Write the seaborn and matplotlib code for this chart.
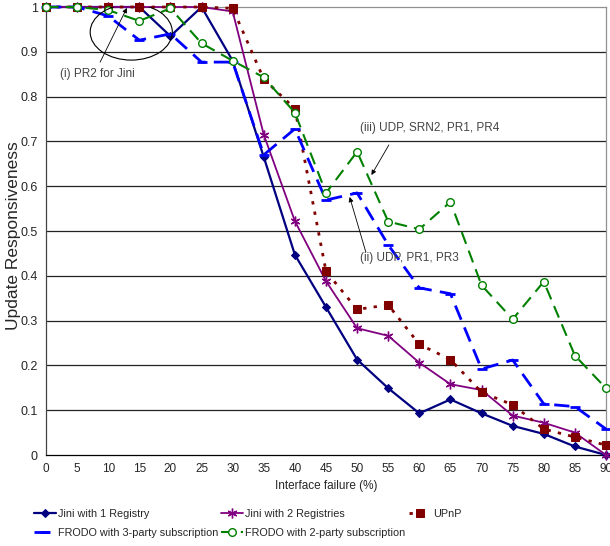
import matplotlib
matplotlib.use("Agg")
import matplotlib.pyplot as plt
from matplotlib.patches import Ellipse
import seaborn as sns
import pandas as pd

failure = [0, 5, 10, 15, 20, 25, 30, 35, 40, 45, 50, 55, 60, 65, 70, 75, 80, 85, 90]
jini1 = [1, 1, 1, 1, 0.935, 1, 0.88, 0.665, 0.447, 0.33, 0.213, 0.149, 0.093, 0.124, 0.093, 0.065, 0.047, 0.019, 0.0]
jini2 = [1, 1, 1, 1, 1, 1, 0.99, 0.715, 0.522, 0.388, 0.283, 0.266, 0.206, 0.158, 0.145, 0.088, 0.072, 0.05, 0.0]
upnp = [1, 1, 1, 1, 1, 1, 0.997, 0.839, 0.773, 0.41, 0.325, 0.335, 0.247, 0.213, 0.14, 0.112, 0.058, 0.04, 0.022]
frodo3 = [1, 1, 0.98, 0.926, 0.94, 0.877, 0.877, 0.67, 0.728, 0.569, 0.585, 0.469, 0.373, 0.36, 0.192, 0.212, 0.114, 0.108, 0.058]
frodo2 = [1, 1, 0.993, 0.969, 0.997, 0.919, 0.88, 0.843, 0.764, 0.585, 0.677, 0.521, 0.504, 0.565, 0.379, 0.303, 0.387, 0.222, 0.149]
series_names = ["Jini with 1 Registry", "Jini with 2 Registries", "UPnP",
                "FRODO with 3-party subscription", "FRODO with 2-party subscription"]
y_ticks = [0, 0.1, 0.2, 0.3, 0.4, 0.5, 0.6, 0.7, 0.8, 0.9, 1]
y_tick_labels = ["0", "0.1", "0.2", "0.3", "0.4", "0.5", "0.6", "0.7", "0.8", "0.9", "1"]

sns.set_style("white")
plt.rcParams["font.family"] = ["Liberation Sans", "DejaVu Sans"]

fig = plt.figure(figsize=(6.1, 5.46), dpi=100)
ax = fig.add_axes([46 / 610, 1 - 455 / 546, 560 / 610, 448 / 546])

styles = [
    dict(color="#000080", linestyle="-", lw=1.6, marker="D", markersize=4.5,
         markerfacecolor="#000080", markeredgecolor="#000080"),
    dict(color="#800080", linestyle="-", lw=1.3, marker=(6, 2, 0), markersize=7,
         markeredgecolor="#800080", markeredgewidth=1.0),
    dict(color="#800000", linestyle=(0, (1.2, 2.6)), lw=2.0, marker="s", markersize=5.5,
         markerfacecolor="#800000", markeredgecolor="#800000"),
    dict(color="#0000FF", linestyle=(0, (5.5, 3)), lw=2.0, marker="_", markersize=7,
         markeredgewidth=2.0, markeredgecolor="#0000FF"),
    dict(color="#008000", linestyle=(0, (6, 3.5)), lw=1.5, marker="o", markersize=5.5,
         markerfacecolor="white", markeredgecolor="#008000", markeredgewidth=1.0),
]
all_series = [jini1, jini2, upnp, frodo3, frodo2]

handles = []
for name, vals, st in zip(series_names, all_series, styles):
    df = pd.DataFrame({"failure": failure, "value": vals})
    sns.lineplot(data=df, x="failure", y="value", ax=ax, label=name, clip_on=False,
                 zorder=3, **st)
    handles.append(ax.lines[-1])

ax.set_xlim(0, 90)
ax.set_ylim(0, 1)
ax.set_xticks(failure)
ax.set_xticklabels([str(v) for v in failure], fontsize=8.5)
ax.set_yticks(y_ticks)
ax.set_yticklabels(y_tick_labels, fontsize=9)
ax.tick_params(axis="both", direction="out", length=4, width=0.8, color="#333333", pad=2)

for yv in y_ticks[1:-1]:
    ax.axhline(yv, color="#222222", lw=0.9, zorder=1)

ax.spines["top"].set_color("#909090")
ax.spines["right"].set_color("#909090")
ax.spines["left"].set_color("#444444")
ax.spines["bottom"].set_color("#000000")
for s in ax.spines.values():
    s.set_linewidth(0.9)

ax.set_xlabel("Interface failure (%)", fontsize=8.5, labelpad=3)
ax.set_ylabel("Update Responsiveness", fontsize=12.5)
ax.yaxis.set_label_coords(-0.045, 0.49)

# annotations
ax.add_patch(Ellipse((13.7, 0.944), 13.2, 0.125, fill=False, edgecolor="black", lw=0.8, zorder=4))
arrow = dict(arrowstyle="-|>", lw=0.6, color="black", mutation_scale=7, shrinkA=0, shrinkB=0)
ax.text(2.2, 0.85, "(i) PR2 for Jini", fontsize=8.5, color="#444444", va="center")
ax.annotate("", xy=(13.0, 0.998), xytext=(8.7, 0.877), arrowprops=arrow)
ax.text(50.4, 0.73, "(iii) UDP, SRN2, PR1, PR4", fontsize=8.5, color="#444444", va="center")
ax.annotate("", xy=(52.3, 0.625), xytext=(55.1, 0.692), arrowprops=arrow)
ax.text(50.4, 0.44, "(ii) UDP, PR1, PR3", fontsize=8.5, color="#444444", va="center")
ax.annotate("", xy=(48.8, 0.576), xytext=(51.4, 0.453), arrowprops=arrow)

ax.get_legend().remove()
order = [0, 3, 1, 4, 2]
fig.legend([handles[i] for i in order], [series_names[i] for i in order],
           ncol=3, loc="upper left", bbox_to_anchor=(34 / 610, 1 - 509 / 546),
           frameon=False, fontsize=7.8, handlelength=2.0, handletextpad=0.2,
           columnspacing=0.3, labelspacing=0.85, borderaxespad=0, borderpad=0)

fig.savefig("out.png", dpi=100)
